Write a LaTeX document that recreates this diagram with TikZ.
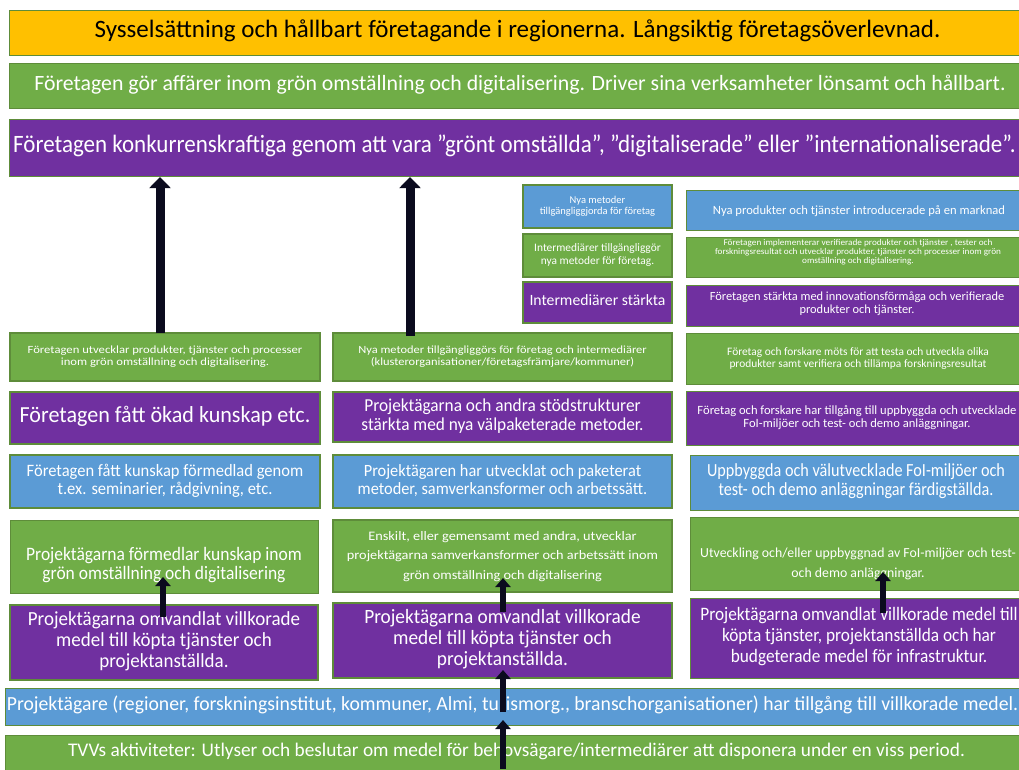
\documentclass[tikz,border=0pt]{standalone}
\usepackage{fontspec}
\setmainfont{Carlito}
\usetikzlibrary{arrows.meta}
\definecolor{cyel}{HTML}{FFC000}
\definecolor{cgrn}{HTML}{70AD47}
\definecolor{cpur}{HTML}{7030A0}
\definecolor{cblu}{HTML}{5B9BD5}
\definecolor{cbrd}{HTML}{5E8C3A}
\definecolor{carr}{HTML}{0B0B1E}
\newcommand\tb[4]{\scalebox{#1}[1]{\fontsize{#2}{#3}\selectfont\begin{tabular}{@{}c@{}}#4\end{tabular}}}
\tikzset{
  box/.style={draw=cbrd, line width=1.1pt, inner sep=0pt, text=white, align=center},
  ybox/.style={box, fill=cyel, text=black},
  gbox/.style={box, fill=cgrn},
  pbox/.style={box, fill=cpur},
  bbox/.style={box, fill=cblu},
  bigarrow/.style={draw=carr, line width=9pt, -{Triangle[width=21pt,length=11pt]}},
  smallarrow/.style={draw=carr, line width=6pt, -{Triangle[width=15pt,length=9pt]}},
}
% place box from (x1,y1) to (x2,y2) in pixel coordinates (y downward)
\newcommand\bx[7]{\node[#1, minimum width={(#4-#2)*1pt}, minimum height={(#5-#3)*1pt}] (#6) at ({(#2+#4)/2},{-(#3+#5)/2}) {#7};}
\begin{document}
\begin{tikzpicture}[x=1pt,y=1pt]
\useasboundingbox (0,0) rectangle (1019,-769);
\fill[white] (0,0) rectangle (1019,-769);
% top rows
\node[ybox, minimum width=1021pt, minimum height=45pt, anchor=north west] (top) at (9,-10) {};
\node[anchor=center, inner sep=0pt] (topt) at (517.5,-32.5) {\tb{1}{25}{26}{Sysselsättning  och hållbart  företagande i regionerna. Långsiktig  företagsöverlevnad.}};
\node[gbox, minimum width=1021pt, minimum height=45pt, anchor=north west] (aff) at (9,-63) {};
\node[text=white, anchor=center, inner sep=0pt] (afft) at (520,-85.5) {\tb{1}{21.8}{23}{Företagen gör affärer inom grön omställning och digitalisering. Driver sina verksamheter lönsamt och hållbart.}};
\node[pbox, minimum width=1021pt, minimum height=57pt, anchor=north west] (konk) at (9,-119) {};
\node[text=white, anchor=west, inner sep=0pt] (konkt) at (13,-147.5) {\tb{0.92}{25}{26}{Företagen konkurrenskraftiga genom att vara ”grönt omställda”, ”digitaliserade” eller ”internationaliserade”.}};
% upper right stack
\bx{bbox}{523}{185}{672}{228}{nm}{\tb{1}{10.5}{11.5}{Nya metoder\\tillgängliggjorda för företag}}
\bx{gbox}{523}{234}{672}{277}{itg}{\tb{1}{11.4}{12.5}{Intermediärer  tillgängliggör\\nya metoder  för  företag.}}
\bx{pbox}{523}{282}{672}{323}{ist}{\tb{1}{15.7}{17}{Intermediärer stärkta}}
\node[bbox, minimum width=344pt, minimum height=40pt, anchor=north west] (npt) at (686,-190) {};
\node[text=white, inner sep=0pt] (nptt) at (859,-212) {\tb{1}{12.6}{13.5}{Nya produkter och tjänster introducerade på en marknad}};
\node[gbox, minimum width=344pt, minimum height=40pt, anchor=north west] (impl) at (686,-237) {};
\node[text=white, inner sep=0pt] (implt) at (858,-253) {\tb{1.05}{8.8}{9}{Företagen implementerar verifierade produkter och tjänster , tester och\\forskningsresultat och utvecklar produkter, tjänster och processer inom grön\\omställning och digitalisering.}};
\node[pbox, minimum width=344pt, minimum height=41pt, anchor=north west] (inn) at (686,-285) {};
\node[text=white, inner sep=0pt] (innt) at (857,-304) {\tb{1}{12.4}{13}{Företagen  stärkta med innovationsförmåga och verifierade\\produkter och tjänster.}};
% row A
\bx{gbox}{10}{333}{320}{381}{a1}{\tb{1.15}{11}{12}{Företagen  utvecklar produkter, tjänster och processer\\inom grön omställning och digitalisering.}}
\bx{gbox}{333}{333}{672}{381}{a2}{\tb{1.13}{11}{12}{Nya metoder tillgängliggörs  för företag och intermediärer\\(klusterorganisationer/företagsfrämjare/kommuner)}}
\node[gbox, minimum width=344pt, minimum height=51pt, anchor=north west] (a3) at (686,-333) {};
\node[text=white, inner sep=0pt] (a3t) at (858,-359) {\tb{1}{11.4}{12.5}{Företag  och forskare möts för att testa och utveckla olika\\produkter samt verifiera  och tillämpa forskningsresultat}};
% row B
\bx{pbox}{10}{392}{320}{444}{b1}{\tb{0.96}{23}{24}{Företagen fått ökad kunskap etc.}}
\bx{pbox}{333}{392}{672}{442}{b2}{\tb{0.95}{18.2}{19}{Projektägarna och andra stödstrukturer\\stärkta med nya välpaketerade metoder.}}
\node[pbox, minimum width=344pt, minimum height=54pt, anchor=north west] (b3) at (686,-391) {};
\node[text=white, inner sep=0pt] (b3t) at (857,-418) {\tb{1}{12.6}{13}{Företag  och forskare har tillgång till uppbyggda och utvecklade\\FoI-miljöer och test- och demo anläggningar.}};
% row C
\bx{bbox}{10}{455}{320}{508}{c1}{\tb{0.95}{17.4}{18}{Företagen fått kunskap förmedlad genom\\t.ex. seminarier, rådgivning, etc.}}
\bx{bbox}{333}{455}{672}{508}{c2}{\tb{0.95}{17.2}{18}{Projektägaren har utvecklat och paketerat\\metoder, samverkansformer och arbetssätt.}}
\node[bbox, minimum width=340pt, minimum height=55pt, anchor=north west] (c3) at (690,-455) {};
\node[text=white, inner sep=0pt] (c3t) at (856,-482) {\tb{0.875}{18.5}{19}{Uppbyggda och välutvecklade FoI-miljöer och\\test- och demo anläggningar färdigställda.}};
% row D
\node[gbox, minimum width=308pt, minimum height=73pt, anchor=north west] (d1) at (10,-520) {};
\node[text=white, inner sep=0pt] (d1t) at (164,-566) {\tb{0.92}{19}{19}{Projektägarna förmedlar kunskap inom\\grön omställning och digitalisering}};
\bx{gbox}{333}{520}{672}{592}{d2}{\tb{1.1}{13}{19.5}{Enskilt, eller  gemensamt med andra, utvecklar\\projektägarna samverkansformer och arbetssätt inom\\grön omställning och digitalisering}}
\node[gbox, minimum width=340pt, minimum height=73pt, anchor=north west] (d3) at (690,-517) {};
\node[text=white, inner sep=0pt] (d3t) at (858,-563) {\tb{1}{13.8}{20}{Utveckling och/eller  uppbyggnad av FoI-miljöer och test-\\och demo anläggningar.}};
% row E
\bx{pbox}{10}{605}{318}{680}{e1}{\tb{0.95}{20}{21}{Projektägarna omvandlat villkorade\\medel till köpta tjänster och\\projektanställda.}}
\bx{pbox}{333}{603}{672}{678}{e2}{\tb{0.95}{20.3}{21}{Projektägarna omvandlat villkorade\\medel till köpta tjänster och\\projektanställda.}}
\node[pbox, minimum width=340pt, minimum height=80pt, anchor=north west] (e3) at (690,-598) {};
\node[text=white, inner sep=0pt] (e3t) at (859,-637) {\tb{0.91}{19}{21}{Projektägarna omvandlat villkorade medel till\\köpta tjänster, projektanställda och har\\budgeterade medel för infrastruktur.}};
% bottom
\node[bbox, minimum width=1025pt, minimum height=37pt, anchor=north west] (own) at (5,-688) {};
\node[text=white, inner sep=0pt] (ownt) at (512.5,-706) {\tb{0.985}{20}{21}{Projektägare (regioner, forskningsinstitut,  kommuner, Almi, turismorg., branschorganisationer)  har tillgång till villkorade medel.}};
\node[gbox, minimum width=1025pt, minimum height=45pt, anchor=north west] (tvv) at (5,-735) {};
\node[text=white, inner sep=0pt] (tvvt) at (516.5,-752) {\tb{1}{19.3}{20}{TVVs aktiviteter: Utlyser och beslutar  om medel för behovsägare/intermediärer att disponera under  en viss period.}};
% arrows
\coordinate (s1) at (160,-333);
\coordinate (s2) at (410,-336);
\draw[bigarrow] (s1) -- (s1 |- konk.south);
\draw[bigarrow] (s2) -- (s2 |- konk.south);
\coordinate (s3) at (163,-617);
\coordinate (t3) at (163,-577);
\draw[smallarrow] (s3) -- (t3);
\coordinate (s4) at (503,-612);
\coordinate (t4) at (503,-578);
\draw[smallarrow] (s4) -- (t4);
\coordinate (s5) at (503,-712);
\coordinate (t5) at (503,-670);
\draw[smallarrow] (s5) -- (t5);
\coordinate (s6) at (503,-769);
\coordinate (t6) at (503,-720);
\draw[smallarrow] (s6) -- (t6);
\coordinate (s7) at (883,-613);
\coordinate (t7) at (883,-572);
\draw[smallarrow] (s7) -- (t7);
\end{tikzpicture}
\end{document}
